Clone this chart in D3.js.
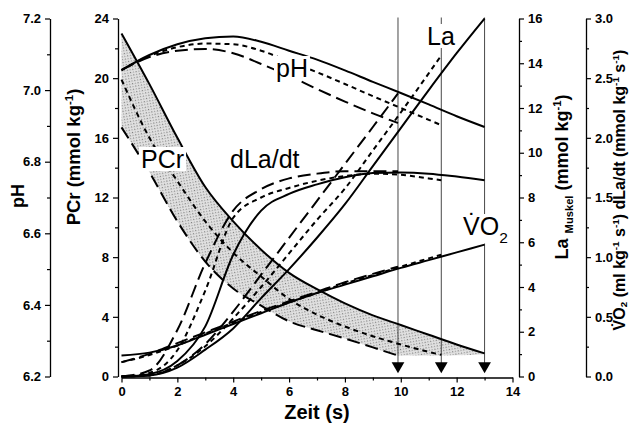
<!DOCTYPE html>
<html>
<head>
<meta charset="utf-8">
<script src="https://cdn.jsdelivr.net/npm/d3@7"></script>
<style>
body { margin: 0; background: #fff; }
svg { font-family: "Liberation Sans", Arial, sans-serif; }
</style>
</head>
<body>
<svg id="chart" width="629" height="425"></svg>
<script>
// time grids of the three runs (solid = 13 s, short dash = 11.45 s, long dash = 9.9 s)
const timeSolid = [0, 1, 2, 3, 4, 5, 6, 7, 8, 9, 10, 11, 12, 13];
const timeShort = [0, 1, 2, 3, 4, 5, 6, 7, 8, 9, 10, 11, 11.45];
const timeLong = [0, 1, 2, 3, 4, 5, 6, 7, 8, 9, 9.9];
const endTimes = [9.9, 11.45, 13.0];

// pH
const phSolid = [7.056, 7.098, 7.128, 7.145, 7.15, 7.135, 7.11, 7.085, 7.055, 7.023, 6.992, 6.96, 6.927, 6.897];
const phShort = [7.056, 7.095, 7.12, 7.13, 7.128, 7.11, 7.08, 7.05, 7.017, 6.983, 6.95, 6.917, 6.902];
const phLong = [7.056, 7.092, 7.11, 7.115, 7.103, 7.073, 7.04, 7.003, 6.968, 6.935, 6.908];

// PCr (mmol/kg)
const pcrSolid = [23.0, 19.6, 16.0, 12.7, 10.4, 8.5, 6.95, 5.85, 4.9, 4.1, 3.45, 2.8, 2.15, 1.55];
const pcrShort = [19.9, 16.0, 13.1, 10.4, 8.3, 6.7, 5.2, 4.15, 3.35, 2.7, 2.15, 1.65, 1.45];
const pcrLong = [16.7, 13.7, 10.4, 7.7, 5.9, 4.75, 3.7, 3.1, 2.55, 1.95, 1.4];
const pcrShadeLow = [16.7, 13.7, 10.4, 7.7, 5.9, 4.75, 3.7, 3.1, 2.55, 1.95, 1.4, 1.4, 1.42, 1.5];

// La muscle (mmol/kg)
const laSolid = [0, 0.05, 0.4, 1.2, 2.15, 3.5, 4.8, 6.2, 7.7, 9.4, 11.1, 12.8, 14.45, 16.0];
const laShort = [0, 0.05, 0.5, 1.35, 2.6, 4.0, 5.5, 7.0, 8.4, 10.1, 11.8, 13.55, 14.35];
const laLong = [0, 0.05, 0.5, 1.45, 2.9, 4.55, 6.2, 7.85, 9.5, 11.15, 12.65];

// dLa/dt (mmol/kg/s)
const dlaSolid = [0, 0.02, 0.13, 0.42, 1.02, 1.39, 1.53, 1.61, 1.67, 1.705, 1.71, 1.7, 1.675, 1.645];
const dlaShort = [0, 0.03, 0.22, 0.72, 1.33, 1.5, 1.58, 1.64, 1.68, 1.7, 1.69, 1.66, 1.645];
const dlaLong = [0, 0.05, 0.39, 0.95, 1.39, 1.57, 1.66, 1.7, 1.72, 1.72, 1.72];

// VO2 (ml/kg/s)
const vo2Solid = [0.175, 0.2, 0.26, 0.35, 0.44, 0.53, 0.62, 0.7, 0.77, 0.84, 0.91, 0.975, 1.04, 1.105];
const vo2Short = [0.12, 0.18, 0.26, 0.36, 0.45, 0.54, 0.62, 0.7, 0.78, 0.85, 0.92, 0.99, 1.02];
const vo2Long = [0.12, 0.19, 0.28, 0.37, 0.46, 0.55, 0.63, 0.71, 0.79, 0.86, 0.92];

// tick values
const xTicks = [0, 2, 4, 6, 8, 10, 12, 14];
const phTicks = [6.2, 6.4, 6.6, 6.8, 7.0, 7.2];
const pcrTicks = [0, 4, 8, 12, 16, 20, 24];
const laTicks = [0, 2, 4, 6, 8, 10, 12, 14, 16];
const rateTicks = [0, 0.5, 1.0, 1.5, 2.0, 2.5, 3.0];

const svg = d3.select('#chart');
const plotTop = 18.5;
const plotBottom = 376.5;

const x = d3.scaleLinear().domain([0, 14]).range([121.5, 512.5]);
const yPH = d3.scaleLinear().domain([6.2, 7.2]).range([plotBottom, plotTop]);
const yPCr = d3.scaleLinear().domain([0, 24]).range([plotBottom, plotTop]);
const yLa = d3.scaleLinear().domain([0, 16]).range([plotBottom, plotTop]);
const yRate = d3.scaleLinear().domain([0, 3]).range([plotBottom, plotTop]);

const dashes = {solid: null, short: '5,4', long: '13,6'};

// stipple for the PCr band
const pat = svg.append('defs').append('pattern')
    .attr('id', 'stipple')
    .attr('width', 4).attr('height', 4)
    .attr('patternUnits', 'userSpaceOnUse')
    .attr('patternTransform', 'rotate(35)');
pat.append('rect').attr('width', 4).attr('height', 4).attr('fill', '#e2e2e2');
pat.append('rect').attr('x', 0).attr('y', 0).attr('width', 1.2).attr('height', 1.2).attr('fill', '#7a7a7a');
pat.append('rect').attr('x', 2).attr('y', 2).attr('width', 1.2).attr('height', 1.2).attr('fill', '#9a9a9a');

const area = d3.area()
    .x(d => x(d.t))
    .y0(d => yPCr(d.lo))
    .y1(d => yPCr(d.hi))
    .curve(d3.curveMonotoneX);

svg.append('path')
    .attr('d', area(timeSolid.map((t, i) => ({t: t, lo: pcrShadeLow[i], hi: pcrSolid[i]}))))
    .attr('fill', 'url(#stipple)');

// end-of-exercise markers
svg.selectAll('.endline').data(endTimes).enter()
    .append('line')
    .attr('class', 'endline')
    .attr('x1', d => x(d)).attr('x2', d => x(d))
    .attr('y1', plotTop - 1).attr('y2', 366)
    .attr('stroke', '#333').attr('stroke-width', 0.9);

svg.selectAll('.endmark').data(endTimes).enter()
    .append('path')
    .attr('class', 'endmark')
    .attr('d', d3.symbol(d3.symbolTriangle).size(70))
    .attr('transform', d => `translate(${x(d)}, 366) rotate(180)`)
    .attr('fill', '#000');

// curves
const series = [
    [timeSolid, pcrSolid, yPCr, 'solid'], [timeShort, pcrShort, yPCr, 'short'], [timeLong, pcrLong, yPCr, 'long'],
    [timeSolid, phSolid, yPH, 'solid'], [timeShort, phShort, yPH, 'short'], [timeLong, phLong, yPH, 'long'],
    [timeSolid, laSolid, yLa, 'solid'], [timeShort, laShort, yLa, 'short'], [timeLong, laLong, yLa, 'long'],
    [timeSolid, dlaSolid, yRate, 'solid'], [timeShort, dlaShort, yRate, 'short'], [timeLong, dlaLong, yRate, 'long'],
    [timeSolid, vo2Solid, yRate, 'solid'], [timeShort, vo2Short, yRate, 'short'], [timeLong, vo2Long, yRate, 'long']
];

series.forEach(s => {
    const [times, values, scale, style] = s;
    const line = d3.line()
        .x(d => x(d[0]))
        .y(d => scale(d[1]))
        .curve(d3.curveMonotoneX);
    svg.append('path')
        .attr('d', line(times.map((t, i) => [t, values[i]])))
        .attr('fill', 'none')
        .attr('stroke', '#000')
        .attr('stroke-width', 2)
        .attr('stroke-dasharray', dashes[style]);
});

// axes
const styleAxis = (g) => {
    g.selectAll('text')
        .attr('font-size', 13)
        .attr('font-weight', 'bold')
        .attr('font-family', '"Liberation Sans", Arial, sans-serif')
        .attr('fill', '#000');
    g.selectAll('line').attr('stroke', '#000').attr('stroke-width', 1.2);
    g.select('.domain').attr('stroke', '#000').attr('stroke-width', 1.3);
};

const minorOf = (ticks) => ticks.slice(1).map((t, i) => (t + ticks[i]) / 2);

const addAxis = (axisFn, scale, ticks, fmt, transform) => {
    svg.append('g')
        .attr('transform', transform)
        .call(axisFn(scale).tickValues(minorOf(ticks)).tickSize(3).tickSizeOuter(0).tickFormat(''))
        .call(g => g.select('.domain').remove())
        .call(styleAxis);
    svg.append('g')
        .attr('transform', transform)
        .call(axisFn(scale).tickValues(ticks).tickSize(5).tickSizeOuter(0).tickPadding(4).tickFormat(fmt))
        .call(styleAxis);
};

addAxis(d3.axisBottom, x, xTicks, d3.format('d'), 'translate(0, 377.5)');
addAxis(d3.axisLeft, yPH, phTicks, d3.format('.1f'), 'translate(50, 0)');
addAxis(d3.axisLeft, yPCr, pcrTicks, d3.format('d'), 'translate(118, 0)');
addAxis(d3.axisRight, yLa, laTicks, d3.format('d'), 'translate(519, 0)');
addAxis(d3.axisRight, yRate, rateTicks, d3.format('.1f'), 'translate(586, 0)');

// text with sub/superscripts: parts = [text, 'sup' | 'sub' | null]
const richText = (el, parts, size, subShift = 0.3) => {
    let shift = 0;
    parts.forEach(p => {
        const target = p[1] === 'sup' ? -0.4 * size : p[1] === 'sub' ? subShift * size : 0;
        el.append('tspan')
            .attr('dy', target - shift)
            .attr('font-size', p[1] ? size * 0.62 : size)
            .text(p[0]);
        shift = target;
    });
};

const axisTitle = (tx, ty, parts, size, subShift) => {
    const t = svg.append('text')
        .attr('transform', `translate(${tx}, ${ty}) rotate(-90)`)
        .attr('text-anchor', 'middle')
        .attr('font-weight', 'bold');
    richText(t, parts, size, subShift);
};

axisTitle(24, 196, [['pH', null]], 18);
axisTitle(80, 157, [['PCr (mmol kg', null], ['-1', 'sup'], [')', null]], 18.5);
axisTitle(568, 177, [['La ', null], ['Muskel', 'sub'], [' (mmol kg', null], ['-1', 'sup'], [')', null]], 18);
axisTitle(625, 190, [['V\u0307O', null], ['2', 'sub'], [' (ml kg', null], ['-1', 'sup'], [' s', null], ['-1', 'sup'],
    [')   dLa/dt (mmol kg', null], ['-1', 'sup'], [' s', null], ['-1', 'sup'], [')', null]], 16, 0.12);

svg.append('text')
    .attr('x', 317).attr('y', 419)
    .attr('text-anchor', 'middle')
    .attr('font-size', 20)
    .attr('font-weight', 'bold')
    .text('Zeit (s)');

// curve labels on white
const curveLabel = (lx, ly, parts) => {
    const g = svg.append('g');
    const bg = g.append('rect').attr('fill', '#fff');
    const t = g.append('text').attr('x', lx).attr('y', ly);
    richText(t, parts, 25);
    const b = t.node().getBBox();
    bg.attr('x', b.x - 2).attr('y', b.y + 2).attr('width', b.width + 4).attr('height', b.height - 4);
};

curveLabel(276, 77, [['pH', null]]);
curveLabel(141, 168, [['PCr', null]]);
curveLabel(230, 168, [['dLa/dt', null]]);
curveLabel(427, 45, [['La', null]]);
curveLabel(463, 235, [['V\u0307O', null], ['2', 'sub']]);
</script>
</body>
</html>
